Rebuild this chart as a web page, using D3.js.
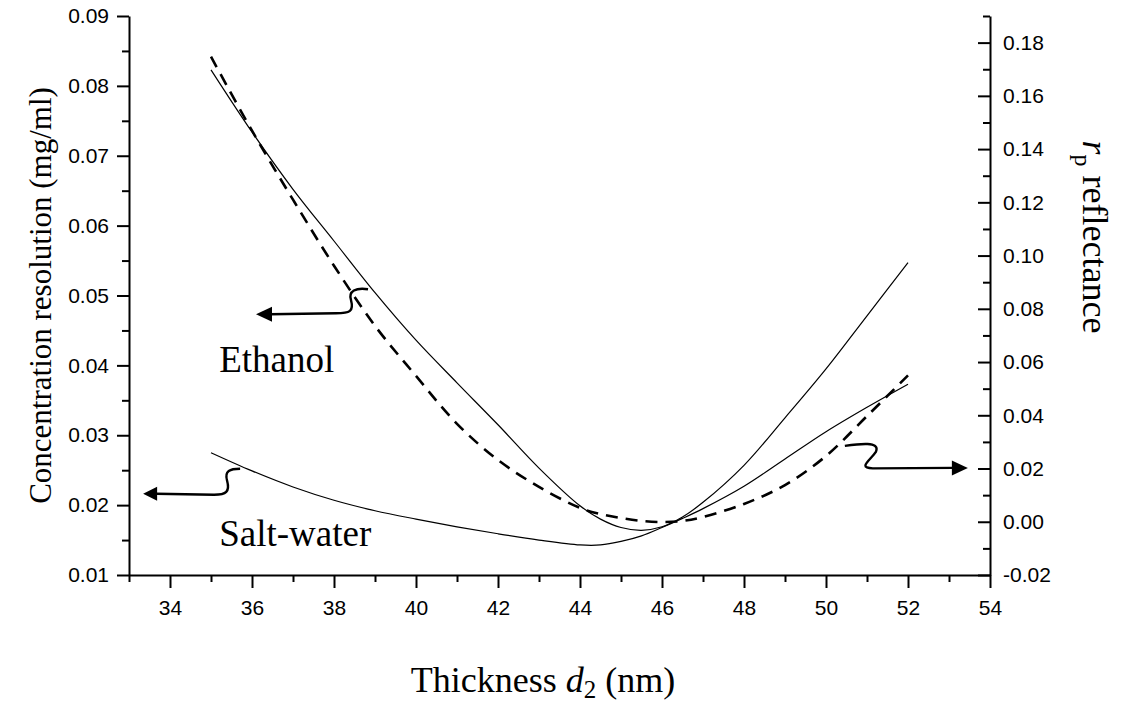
<!DOCTYPE html>
<meta charset="utf-8">
<style>
  body { margin: 0; background: #fff; }
</style>
<svg width="1131" height="704"></svg>
<script src="https://d3js.org/d3.v7.min.js"></script>
<script>
  var svg = d3.select("svg"),
      margin = {top: 16, right: 141, bottom: 129, left: 129},
      width = +svg.attr("width") - margin.left - margin.right,
      height = +svg.attr("height") - margin.top - margin.bottom,
      g = svg.append("g").attr("transform", "translate(" + margin.left + "," + margin.top + ")");

  // thickness d2 (nm)
  var thickness   = [35, 36, 37, 38, 39, 40, 41, 42, 43, 44, 44.5, 45, 45.5, 46, 46.5, 47, 48, 49, 50, 51, 52];
  // concentration resolution (mg/ml), left axis
  var ethanolRes  = [0.0823, 0.0734, 0.0652, 0.0578, 0.0504, 0.0436, 0.0375, 0.0315, 0.0253, 0.0199, 0.0180,
                     0.0168, 0.0164, 0.0169, 0.0183, 0.0204, 0.0257, 0.0325, 0.0395, 0.0471, 0.0547];
  var saltRes     = [0.0275, 0.0249, 0.0226, 0.0207, 0.0192, 0.0180, 0.0169, 0.0159, 0.0150, 0.0143, 0.0143,
                     0.0148, 0.0156, 0.0168, 0.0181, 0.0195, 0.0227, 0.0266, 0.0305, 0.0340, 0.0373];
  // rp reflectance, right axis
  var reflectance = [0.1747, 0.1469, 0.1210, 0.0962, 0.0736, 0.0548, 0.0368, 0.0232, 0.0131, 0.0052, 0.0029,
                     0.0014, 0.0003, -0.0001, 0.0003, 0.0018, 0.0067, 0.0138, 0.0247, 0.0397, 0.0550];

  var xTicks      = [34, 36, 38, 40, 42, 44, 46, 48, 50, 52, 54];
  var xMinor      = [33, 35, 37, 39, 41, 43, 45, 47, 49, 51, 53];
  var leftTicks   = [0.01, 0.02, 0.03, 0.04, 0.05, 0.06, 0.07, 0.08, 0.09];
  var leftMinor   = [0.015, 0.025, 0.035, 0.045, 0.055, 0.065, 0.075, 0.085];
  var rightTicks  = [-0.02, 0, 0.02, 0.04, 0.06, 0.08, 0.10, 0.12, 0.14, 0.16, 0.18];
  var rightMinor  = [-0.01, 0.01, 0.03, 0.05, 0.07, 0.09, 0.11, 0.13, 0.15, 0.17, 0.19];

  var x = d3.scaleLinear().domain([33, 54]).range([0, width]);
  var yL = d3.scaleLinear().domain([0.01, 0.09]).range([height, 0]);
  var yR = d3.scaleLinear().domain([-0.02, 0.19]).range([height, 0]);

  var fmt = function(d) { return d.toFixed(2); };
  var sans = "Liberation Sans, Arial, sans-serif",
      serif = "Liberation Serif, Times New Roman, serif";

  function styleAxis(sel) {
    sel.attr("font-size", 21).attr("font-family", sans);
    sel.selectAll("line, path").attr("stroke", "#000").attr("stroke-width", 2);
    sel.selectAll("text").attr("fill", "#000");
  }

  // minor ticks first
  g.append("g").attr("transform", "translate(0," + height + ")")
      .call(d3.axisBottom(x).tickValues(xMinor).tickSize(7).tickFormat(""))
      .call(styleAxis).select(".domain").remove();
  g.append("g")
      .call(d3.axisLeft(yL).tickValues(leftMinor).tickSize(7).tickFormat(""))
      .call(styleAxis).select(".domain").remove();
  g.append("g").attr("transform", "translate(" + width + ",0)")
      .call(d3.axisRight(yR).tickValues(rightMinor).tickSizeInner(-7).tickSizeOuter(0).tickFormat(""))
      .call(styleAxis).select(".domain").remove();

  // major axes
  g.append("g").attr("transform", "translate(0," + height + ")")
      .call(d3.axisBottom(x).tickValues(xTicks).tickSizeInner(13).tickSizeOuter(0).tickPadding(12).tickFormat(d3.format("d")))
      .call(styleAxis);
  g.append("g")
      .call(d3.axisLeft(yL).tickValues(leftTicks).tickSizeInner(12).tickSizeOuter(0).tickPadding(8).tickFormat(fmt))
      .call(styleAxis);
  g.append("g").attr("transform", "translate(" + width + ",0)")
      .call(d3.axisRight(yR).tickValues(rightTicks).tickSizeInner(-12).tickSizeOuter(0).tickPadding(13).tickFormat(fmt))
      .call(styleAxis);

  // curves
  function lineFor(values, y) {
    return d3.line()
        .x(function(d, i) { return x(thickness[i]); })
        .y(function(d) { return y(d); })
        .curve(d3.curveCatmullRom.alpha(0.5))(values);
  }

  g.append("path").attr("d", lineFor(ethanolRes, yL))
      .attr("fill", "none").attr("stroke", "#000").attr("stroke-width", 1.2);
  g.append("path").attr("d", lineFor(saltRes, yL))
      .attr("fill", "none").attr("stroke", "#000").attr("stroke-width", 1.2);
  g.append("path").attr("d", lineFor(reflectance, yR))
      .attr("fill", "none").attr("stroke", "#000").attr("stroke-width", 2.6)
      .attr("stroke-dasharray", "12,8");

  // curly pointer arrows, anchored in data units
  function pointer(px, py, path, head) {
    var a = g.append("g").attr("transform", "translate(" + px + "," + py + ")");
    a.append("path").attr("d", path).attr("fill", "none")
        .attr("stroke", "#000").attr("stroke-width", 2.4);
    a.append("path").attr("d", head).attr("fill", "#000");
  }
  pointer(x(38.83), yL(0.0509),
      "M0,0 C-12,-2 -20,2 -17,11 C-14,22 -18,24 -32,24 L-98,25",
      "M-112,25 L-96,17.5 L-96,32.5 Z");
  pointer(x(35.71), yL(0.0252),
      "M0,0 C-10,0 -16,2 -13,12 C-10,23 -14,26 -26,26 L-84,25",
      "M-97,25 L-83,18 L-83,32 Z");
  pointer(x(50.46), yR(0.0285),
      "M0,0 C14,-2 36,-5 31,6 C26,14 12,22 28,22.5 L108,22",
      "M123,22 L107,14.5 L107,29.5 Z");

  // annotation labels
  g.append("text").attr("x", x(35.2)).attr("y", yL(0.0391))
      .attr("font-family", serif).attr("font-size", 37).text("Ethanol");
  g.append("text").attr("x", x(35.2)).attr("y", yL(0.0141))
      .attr("font-family", serif).attr("font-size", 37).text("Salt-water");

  // axis titles
  svg.append("text")
      .attr("transform", "translate(51," + (margin.top + height / 2) + ") rotate(-90)")
      .attr("text-anchor", "middle")
      .attr("font-family", serif).attr("font-size", 31)
      .text("Concentration resolution (mg/ml)");

  var rt = svg.append("text")
      .attr("transform", "translate(1083,237) rotate(90)")
      .attr("text-anchor", "middle")
      .attr("font-family", serif).attr("font-size", 36);
  rt.append("tspan").attr("font-style", "italic").text("r");
  rt.append("tspan").attr("font-size", 24).attr("dy", 8).text("p");
  rt.append("tspan").attr("dy", -8).text(" reflectance");

  var xt = svg.append("text")
      .attr("x", 543).attr("y", 692)
      .attr("text-anchor", "middle")
      .attr("font-family", serif).attr("font-size", 36);
  xt.append("tspan").text("Thickness ");
  xt.append("tspan").attr("font-style", "italic").text("d");
  xt.append("tspan").attr("font-size", 25).attr("dy", 6).text("2");
  xt.append("tspan").attr("dy", -6).text(" (nm)");
</script>
